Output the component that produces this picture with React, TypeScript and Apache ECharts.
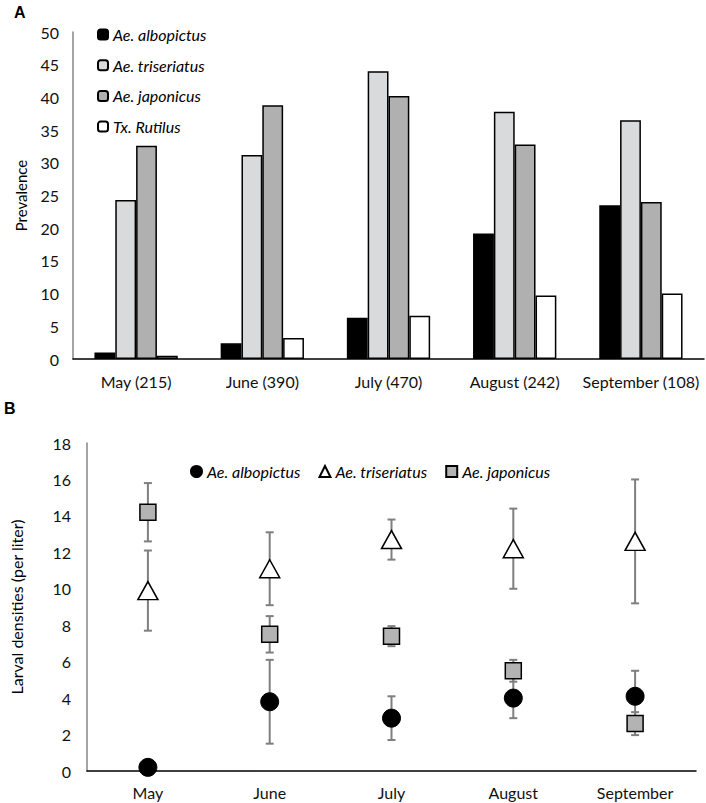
import React, { useEffect, useRef } from "react";
import * as echarts from "echarts";

const monthsA = ["May (215)", "June (390)", "July (470)", "August (242)", "September (108)"];
const speciesA = ["Ae. albopictus", "Ae. triseriatus", "Ae. japonicus", "Tx. Rutilus"];
const prevAlbopictus = [1.0, 2.4, 6.3, 19.2, 23.5];
const prevTriseriatus = [24.3, 31.2, 44.0, 37.8, 36.5];
const prevJaponicus = [32.6, 38.8, 40.2, 32.8, 24.0];
const prevRutilus = [0.5, 3.2, 6.6, 9.7, 10.0];

const monthsB = ["May", "June", "July", "August", "September"];
const densAlbopictus = [0.2, 3.8, 2.9, 4.0, 4.1];
const errAlbopictus = [0, 2.3, 1.2, 1.1, 1.4];
const densTriseriatus = [9.9, 11.1, 12.7, 12.2, 12.6];
const errTriseriatus = [2.2, 2.0, 1.1, 2.2, 3.4];
const densJaponicus = [14.2, 7.5, 7.4, 5.5, 2.6];
const errJaponicus = [1.6, 1.0, 0.55, 0.6, 0.63];

const FONT = "Lato";
const barColors = ["#000000", "#d9dadc", "#b0b0b0", "#ffffff"];
const barValues = [prevAlbopictus, prevTriseriatus, prevJaponicus, prevRutilus];

function errorSeries(means: number[], errs: number[]) {
  return {
    type: "custom",
    xAxisIndex: 0,
    yAxisIndex: 0,
    z: 1,
    silent: true,
    data: means.map((m, i) => [i, m - errs[i], m + errs[i]]),
    renderItem: (params: any, api: any) => {
      const x = api.value(0);
      const lo = api.coord([x, api.value(1)]);
      const hi = api.coord([x, api.value(2)]);
      if (Math.abs(lo[1] - hi[1]) < 1) return { type: "group", children: [] };
      const style = { stroke: "#7f7f7f", lineWidth: 2 };
      const cw = 4;
      return {
        type: "group",
        children: [
          { type: "line", shape: { x1: lo[0], y1: lo[1], x2: hi[0], y2: hi[1] }, style },
          { type: "line", shape: { x1: hi[0] - cw, y1: hi[1], x2: hi[0] + cw, y2: hi[1] }, style },
          { type: "line", shape: { x1: lo[0] - cw, y1: lo[1], x2: lo[0] + cw, y2: lo[1] }, style },
        ],
      };
    },
  };
}

export default function App() {
  const refA = useRef<HTMLDivElement>(null);
  const refB = useRef<HTMLDivElement>(null);

  useEffect(() => {
    const chartA = echarts.init(refA.current!, null, { renderer: "svg" });
    const chartB = echarts.init(refB.current!, null, { renderer: "svg" });

    chartA.setOption({
      animation: false,
      textStyle: { fontFamily: FONT },
      graphic: [
        { type: "text", left: 14, top: 4, style: { text: "A", fontFamily: "Liberation Sans", fontWeight: "bold", fontSize: 16, fill: "#000" } },
      ],
      legend: {
        orient: "vertical",
        left: 97,
        top: 26,
        padding: 0,
        itemWidth: 10,
        itemHeight: 10,
        itemGap: 13.7,
        data: speciesA,
        textStyle: { fontFamily: FONT, fontSize: 16, fontStyle: "italic", color: "#000", lineHeight: 17 },
      },
      grid: { left: 73, right: 2, top: 32, bottom: 41 },
      xAxis: {
        type: "category",
        data: monthsA,
        axisTick: { show: false },
        axisLine: { lineStyle: { color: "#000", width: 1.5 } },
        axisLabel: { interval: 0, fontFamily: FONT, fontSize: 16, color: "#111", margin: 14 },
      },
      yAxis: {
        type: "value",
        min: 0,
        max: 50,
        interval: 5,
        name: "Prevalence",
        nameLocation: "middle",
        nameGap: 45,
        nameTextStyle: { fontFamily: FONT, fontSize: 15, color: "#000" },
        axisLine: { show: true, lineStyle: { color: "#868686", width: 1.5 } },
        axisTick: { show: false },
        splitLine: { show: false },
        axisLabel: { fontFamily: FONT, fontSize: 16, color: "#111", margin: 14 },
      },
      series: speciesA.map((name, k) => ({
        type: "bar",
        name,
        data: barValues[k],
        barGap: "0%",
        barCategoryGap: "34%",
        itemStyle: { color: barColors[k], borderColor: "#000", borderWidth: 1.5 },
      })),
    });

    chartB.setOption({
      animation: false,
      textStyle: { fontFamily: FONT },
      graphic: [
        { type: "text", left: 4, top: 0, style: { text: "B", fontFamily: "Liberation Sans", fontWeight: "bold", fontSize: 16, fill: "#000" } },
      ],
      legend: {
        left: 190,
        top: 63,
        padding: 0,
        itemWidth: 11,
        itemHeight: 11,
        itemGap: 18,
        data: ["Ae. albopictus", "Ae. triseriatus", "Ae. japonicus"],
        textStyle: { fontFamily: FONT, fontSize: 16, fontStyle: "italic", color: "#000", lineHeight: 17 },
      },
      grid: { left: 75, right: 10, top: 43, bottom: 32 },
      xAxis: {
        type: "category",
        data: monthsB,
        axisTick: { show: false },
        axisLine: { lineStyle: { color: "#000", width: 1.5 } },
        axisLabel: { interval: 0, fontFamily: FONT, fontSize: 16, color: "#111", margin: 13 },
      },
      yAxis: {
        type: "value",
        min: 0,
        max: 18,
        interval: 2,
        name: "Larval densities (per liter)",
        nameLocation: "middle",
        nameGap: 63,
        nameTextStyle: { fontFamily: FONT, fontSize: 16, color: "#000" },
        axisLine: { show: true, lineStyle: { color: "#868686", width: 1.5 } },
        axisTick: { show: false },
        splitLine: { show: false },
        axisLabel: { fontFamily: FONT, fontSize: 16, color: "#111", margin: 16 },
      },
      series: [
        errorSeries(densAlbopictus, errAlbopictus),
        errorSeries(densTriseriatus, errTriseriatus),
        errorSeries(densJaponicus, errJaponicus),
        {
          type: "scatter",
          name: "Ae. albopictus",
          z: 5,
          symbol: "circle",
          symbolSize: 18,
          data: densAlbopictus.map((v, i) => [monthsB[i], v]),
          itemStyle: { color: "#000", borderColor: "#000", borderWidth: 1, opacity: 1 },
        },
        {
          type: "scatter",
          name: "Ae. triseriatus",
          z: 5,
          symbol: "triangle",
          symbolSize: [20, 18],
          data: densTriseriatus.map((v, i) => [monthsB[i], v]),
          itemStyle: { color: "#fff", borderColor: "#000", borderWidth: 1.5, opacity: 1 },
        },
        {
          type: "scatter",
          name: "Ae. japonicus",
          z: 5,
          symbol: "rect",
          symbolSize: 16,
          data: densJaponicus.map((v, i) => [monthsB[i], v]),
          itemStyle: { color: "#b3b3b3", borderColor: "#000", borderWidth: 1.5, opacity: 1 },
        },
      ],
    });

    return () => {
      chartA.dispose();
      chartB.dispose();
    };
  }, []);

  return (
    <div style={{ position: "absolute", left: 0, top: 0, width: 706, height: 803, background: "#fff" }}>
      <div ref={refA} style={{ position: "absolute", left: 0, top: 0, width: 706, height: 400 }} />
      <div ref={refB} style={{ position: "absolute", left: 0, top: 400, width: 706, height: 403 }} />
    </div>
  );
}
